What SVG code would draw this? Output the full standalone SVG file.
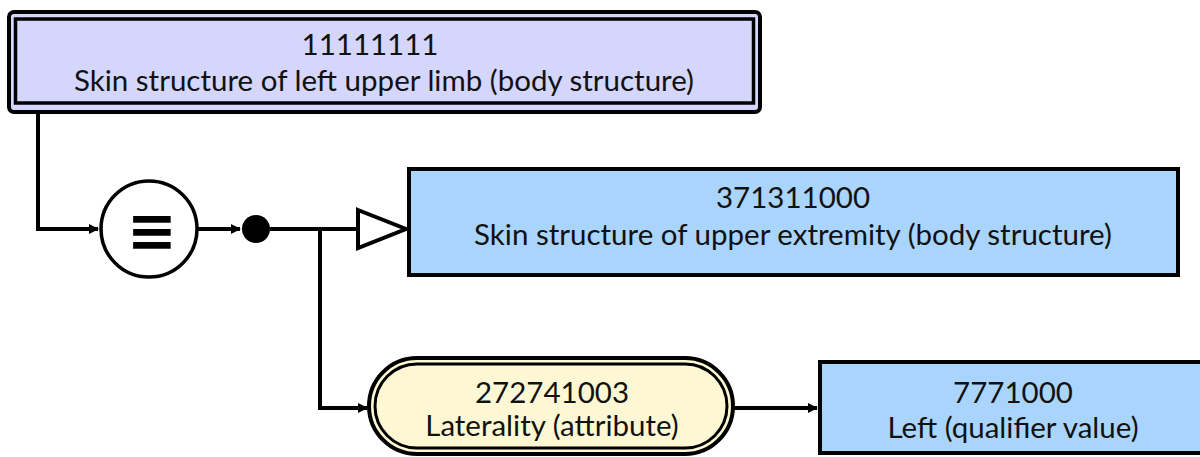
<svg xmlns="http://www.w3.org/2000/svg" width="1200" height="457" viewBox="0 0 1200 457">
<defs>
<style>
.t{font-family:Lato,"Liberation Sans",sans-serif;font-size:29.5px;fill:#111;text-anchor:middle}
.ln{fill:none;stroke:#000;stroke-width:4}
</style>
<marker id="ah" markerWidth="10" markerHeight="10" refX="9" refY="5" orient="auto" markerUnits="userSpaceOnUse">
<path d="M0,0 L10,5 L0,10 Z" fill="#000"/>
</marker>
</defs>
<rect width="1200" height="457" fill="#fff"/>
<g id="connectors">
<path class="ln" d="M38,104 V229 H98" marker-end="url(#ah)"/>
<path class="ln" d="M198,229 H240" marker-end="url(#ah)"/>
<path class="ln" d="M270,229 H358"/>
<path class="ln" d="M320,229 V408 H367" marker-end="url(#ah)"/>
<path class="ln" d="M733,408 H817" marker-end="url(#ah)"/>
<path d="M358,210 L406,229 L358,248 Z" fill="#fff" stroke="#000" stroke-width="4" stroke-linejoin="miter"/>
</g>
<g id="n11111111">
<rect x="9" y="12" width="751" height="100" rx="5" fill="#d4d6fb" stroke="#000" stroke-width="4"/>
<rect x="15.5" y="19" width="738" height="84" fill="#d4d6fb" stroke="#000" stroke-width="3.5"/>
<text class="t" x="370" y="55">11111111</text>
<text class="t" x="384" y="91">Skin structure of left upper limb (body structure)</text>
</g>
<g id="equiv">
<circle cx="149" cy="229" r="48" fill="#fff" stroke="#000" stroke-width="3.5"/>
<text x="152" y="251" font-family="DejaVu Sans" font-weight="bold" font-size="60" text-anchor="middle" fill="#000">≡</text>
</g>
<g id="conj">
<circle cx="256" cy="229" r="14" fill="#000"/>
</g>
<g id="n371311000">
<rect x="409" y="169" width="769" height="106" fill="#a9d4fb" stroke="#000" stroke-width="4"/>
<text class="t" x="793" y="208">371311000</text>
<text class="t" x="793" y="245">Skin structure of upper extremity (body structure)</text>
</g>
<g id="n272741003">
<rect x="369" y="358" width="364" height="96" rx="48" fill="#fdf8d3" stroke="#000" stroke-width="4"/>
<rect x="375" y="364" width="352" height="84" rx="42" fill="#fdf8d3" stroke="#000" stroke-width="3"/>
<text class="t" x="552" y="403">272741003</text>
<text class="t" x="552" y="436">Laterality (attribute)</text>
</g>
<g id="n7771000">
<rect x="820" y="362" width="390" height="91" fill="#a9d4fb" stroke="#000" stroke-width="4"/>
<text class="t" x="1013" y="403">7771000</text>
<text class="t" x="1013" y="438">Left (qualifier value)</text>
</g>
</svg>
